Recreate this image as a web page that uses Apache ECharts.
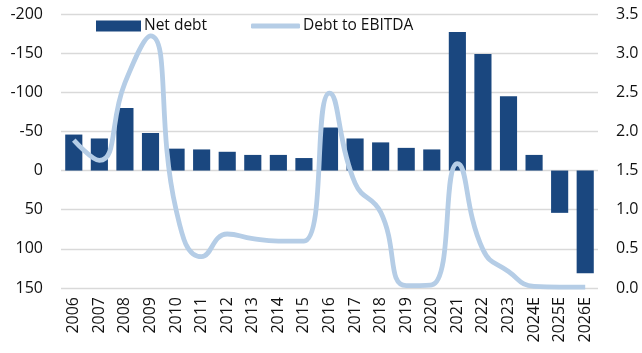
<!DOCTYPE html>
<html>
<head>
<meta charset="utf-8">
<script src="https://cdn.jsdelivr.net/npm/echarts@6/dist/echarts.min.js"></script>
<style>
html,body{margin:0;padding:0;background:#fff;}
#chart{width:642px;height:353px;}
</style>
</head>
<body>
<div id="chart"></div>
<script>
const categories = ['2006','2007','2008','2009','2010','2011','2012','2013','2014','2015','2016','2017','2018','2019','2020','2021','2022','2023','2024E','2025E','2026E'];
const netDebt = [-46,-41,-80,-48,-28,-27,-24,-20,-20,-16,-55,-41,-36,-29,-27,-177,-149,-95,-20,54,131];
const debtToEbitda = [1.89,1.63,2.62,3.22,1.0,0.40,0.69,0.63,0.60,0.60,2.49,1.34,0.97,0.03,0.04,1.59,0.49,0.21,0.02,0.01,0.01];
const leftTicks = {min:-200, max:150, interval:50};
const rightTicks = {min:0, max:3.5, interval:0.5};

const FONT = 'Open Sans';
const chart = echarts.init(document.getElementById('chart'), null, {renderer:'canvas'});
chart.setOption({
  animation:false,
  backgroundColor:'#fff',
  textStyle:{fontFamily:FONT},
  grid:{left:61, right:44, top:14, bottom:65},
  legend:[
    {data:[{name:'Net debt', icon:'rect'}], left:91, top:13, itemWidth:45, itemHeight:11,
     textStyle:{fontFamily:FONT, fontSize:15.5, color:'#111', padding:[0,0,0,-2]}},
    {data:[{name:'Debt to EBITDA', icon:'roundRect'}], left:246, top:13, itemWidth:49, itemHeight:5,
     textStyle:{fontFamily:FONT, fontSize:15.5, color:'#111', padding:[0,0,0,-2]}}
  ],
  xAxis:{
    type:'category', data:categories,
    axisLine:{show:false, onZero:false}, axisTick:{show:false},
    axisLabel:{rotate:90, margin:9, fontSize:16, color:'#111', fontFamily:FONT, interval:0}
  },
  yAxis:[
    {type:'value', inverse:true, min:leftTicks.min, max:leftTicks.max, interval:leftTicks.interval,
     axisLine:{show:false}, axisTick:{show:false},
     splitLine:{lineStyle:{color:'#d9d9d9', width:1.3}},
     axisLabel:{fontSize:16, color:'#111', fontFamily:FONT, margin:18}},
    {type:'value', min:rightTicks.min, max:rightTicks.max, interval:rightTicks.interval,
     axisLine:{show:false}, axisTick:{show:false}, splitLine:{show:false},
     axisLabel:{fontSize:16, color:'#111', fontFamily:FONT, margin:18, formatter:v=>v.toFixed(1)}}
  ],
  series:[
    {name:'Net debt', type:'bar', data:netDebt, yAxisIndex:0, barWidth:'67%',
     itemStyle:{color:'#1a477f'}},
    {name:'Debt to EBITDA', type:'line', data:debtToEbitda, yAxisIndex:1, smooth:0.5,
     showSymbol:false, symbol:'none', z:5,
     lineStyle:{color:'#b5cde6', width:4.8}, itemStyle:{color:'#b5cde6'}}
  ]
});
</script>
</body>
</html>
